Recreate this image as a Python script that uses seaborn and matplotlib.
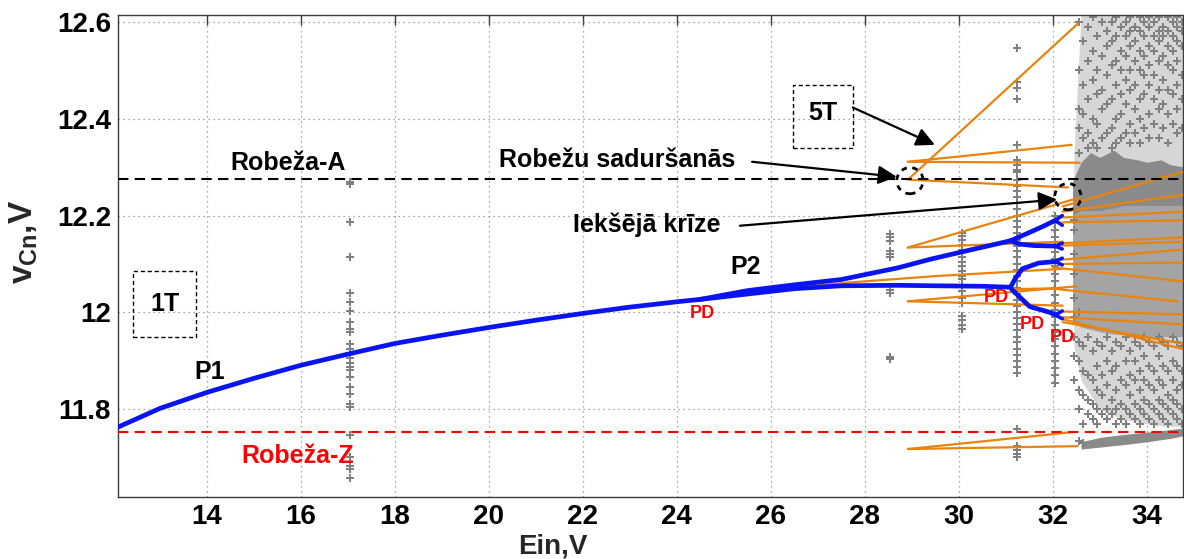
import numpy as np
import pandas as pd
import matplotlib
matplotlib.use("Agg")
import matplotlib.pyplot as plt
from matplotlib.patches import Ellipse, Rectangle
import seaborn as sns

sns.set_style("white")
plt.rcParams['font.family'] = ['Liberation Sans', 'DejaVu Sans']
plt.rcParams['mathtext.fontset'] = 'custom'
plt.rcParams['mathtext.rm'] = 'Liberation Sans:bold'
plt.rcParams['mathtext.it'] = 'Liberation Sans:bold'
plt.rcParams['mathtext.bf'] = 'Liberation Sans:bold'
plt.rcParams['mathtext.default'] = 'rm'

# ---------------- data ----------------
xticks = [14, 16, 18, 20, 22, 24, 26, 28, 30, 32, 34]
yticks = [11.8, 12.0, 12.2, 12.4, 12.6]
ytick_labels = ['11.8', '12', '12.2', '12.4', '12.6']

robeza_a = 12.276
robeza_z = 11.753

# stable branches (blue)
p1_x = [12.1, 13, 14, 15, 16, 17, 18, 19, 20, 21, 22, 23, 24, 24.5]
p1_y = [11.763, 11.802, 11.835, 11.864, 11.891, 11.914, 11.936, 11.953, 11.969, 11.984, 11.998, 12.011, 12.022, 12.027]
p2u_x = [24.5, 25.5, 26.5, 27.5, 28.7, 29.4, 30.2, 31.1]
p2u_y = [12.027, 12.045, 12.057, 12.068, 12.092, 12.11, 12.128, 12.148]
p2l_x = [24.5, 25.5, 26.5, 27.5, 28.7, 29.5, 30.5, 31.1]
p2l_y = [12.027, 12.038, 12.049, 12.055, 12.056, 12.055, 12.054, 12.052]
p4a_x = [31.1, 31.5, 31.8, 32.05]
p4a_y = [12.148, 12.165, 12.178, 12.19]
p4b_x = [31.1, 31.3, 31.6, 32.05]
p4b_y = [12.148, 12.141, 12.138, 12.137]
p4c_x = [31.1, 31.2, 31.35, 31.7, 32.05]
p4c_y = [12.052, 12.07, 12.09, 12.102, 12.105]
p4d_x = [31.13, 31.51, 31.94, 32.05]
p4d_y = [12.047, 12.012, 12.0, 11.995]
fork_x0 = 32.05
fork_x1 = 32.2
fork_y0 = [12.19, 12.137, 12.105, 11.995]
fork_spread = [0.01, 0.006, 0.007, 0.008]

# unstable / 5T orbits (orange) : x0, y0, x1, y1
orange_x0 = [28.915, 28.915, 28.915, 28.95, 28.915, 28.915, 28.915, 28.915, 28.915, 28.915,
             31.08,
             32.21, 32.21, 32.21, 32.21, 32.21, 32.21, 32.21, 32.21, 32.0, 32.0, 32.21, 32.21, 32.21, 32.21]
orange_y0 = [12.274, 12.311, 12.311, 12.274, 12.134, 12.134, 12.023, 12.023, 11.718, 11.718,
             12.048,
             12.219, 12.208, 12.196, 12.186, 12.138, 12.143, 12.109, 12.100, 12.093, 12.049, 12.002, 11.99, 11.986, 11.98]
orange_x1 = [32.53, 32.40, 32.57, 32.32, 32.57, 32.21, 32.51, 32.21, 32.43, 32.53,
             32.2,
             34.79, 34.79, 34.79, 34.79, 34.79, 34.79, 34.79, 34.79, 34.79, 34.66, 34.79, 34.79, 34.79, 34.79]
orange_y1 = [12.596, 12.346, 12.309, 12.258, 12.237, 12.146, 12.054, 12.014, 11.753, 11.724,
             12.05,
             12.291, 12.243, 12.208, 12.19, 12.146, 12.155, 12.130, 12.103, 12.064, 12.023, 11.996, 11.975, 11.924, 11.935]
unst_x = [24.5, 26.0, 27.7, 29.5, 32.2]
unst_y = [12.027, 12.047, 12.062, 12.075, 12.09]

# sampled (gray) points in periodic windows
col_x = [17.05, 28.53, 30.06, 31.23, 32.04]
col_y = [
    [12.27, 12.266, 12.186, 12.115, 12.041, 12.021, 12.002, 11.981, 11.965, 11.96, 11.934, 11.925,
     11.915, 11.905, 11.895, 11.888, 11.882, 11.866, 11.847, 11.831, 11.81, 11.804, 11.748, 11.701,
     11.682, 11.676, 11.658],
    [12.161, 12.155, 12.148, 12.126, 12.12, 12.115, 12.047, 12.041, 11.909, 11.903],
    [12.165, 12.158, 12.15, 12.14, 12.128, 12.115, 12.105, 12.095, 12.085, 12.075, 12.068, 12.055,
     12.045, 12.03, 12.02, 11.992, 11.985, 11.975, 11.965],
    [12.546, 12.476, 12.464, 12.44, 12.346, 12.315, 12.305, 12.295, 12.289, 12.274, 12.262, 12.25,
     12.238, 12.226, 12.214, 12.2, 12.188, 12.176, 12.164, 12.15, 12.138, 12.126, 12.114, 12.1,
     12.088, 12.076, 12.064, 12.05, 12.038, 12.026, 12.014, 12.0, 11.988, 11.976, 11.964, 11.95,
     11.938, 11.925, 11.912, 11.9, 11.888, 11.876, 11.759, 11.724, 11.715, 11.708, 11.701],
    [12.2, 12.185, 12.17, 12.155, 12.14, 12.125, 12.11, 12.095, 12.08, 12.065, 12.05, 12.035,
     12.02, 12.005, 11.99, 11.975, 11.96, 11.945, 11.93, 11.915, 11.9, 11.885, 11.87, 11.855],
]

# chaotic cloud: density bands (edges) and scattered points
cloud_x = [32.45, 32.6, 33.0, 33.5, 34.0, 34.4, 34.8]
cloud_lo = [11.93, 11.86, 11.8, 11.78, 11.77, 11.765, 11.765]
cloud_hi = [12.33, 12.614, 12.614, 12.614, 12.614, 12.614, 12.614]
band_x = [32.42, 32.6, 32.8, 33.0, 33.3, 33.5, 33.8, 34.0, 34.3, 34.5, 34.8]
band_top_lo = [12.2, 12.21, 12.21, 12.21, 12.215, 12.22, 12.22, 12.22, 12.22, 12.22, 12.22]
band_top_hi = [12.27, 12.31, 12.33, 12.32, 12.335, 12.32, 12.315, 12.31, 12.315, 12.305, 12.3]
band_mid_lo = [11.98, 11.97, 11.965, 11.96, 11.955, 11.955, 11.95, 11.95, 11.95, 11.95, 11.95]
band_mid_hi = [12.2, 12.21, 12.21, 12.21, 12.215, 12.22, 12.22, 12.22, 12.22, 12.22, 12.22]
band_bot_x = [32.6, 33.0, 33.5, 34.0, 34.5, 34.8]
band_bot_lo = [11.718, 11.722, 11.727, 11.733, 11.74, 11.746]
band_bot_hi = [11.733, 11.742, 11.748, 11.753, 11.758, 11.762]

chaos_x = [32.45, 32.55, 32.65, 32.75, 32.85, 32.95, 33.05, 33.15, 33.25, 33.35, 33.45, 33.55,
           33.65, 33.75, 33.85, 33.95, 34.05, 34.15, 34.25, 34.35, 34.45, 34.55, 34.65, 34.75]
chaos_y = [
    [12.19, 12.17, 12.12, 12.08, 12.03, 11.99, 11.95, 11.91, 11.86],
    [12.6, 12.5, 12.42, 12.38, 12.33, 12.0, 11.94, 11.9, 11.84, 11.8, 11.735],
    [12.56, 12.47, 12.41, 12.36, 11.93, 11.88, 11.83, 11.77, 11.73],
    [12.59, 12.52, 12.44, 12.37, 12.34, 11.95, 11.87, 11.82, 11.79],
    [12.61, 12.54, 12.48, 12.4, 12.35, 11.92, 11.86, 11.81, 11.78],
    [12.57, 12.5, 12.45, 12.39, 12.34, 11.94, 11.89, 11.84, 11.8, 11.77],
    [12.6, 12.53, 12.46, 12.42, 12.36, 11.93, 11.87, 11.83, 11.79],
    [12.58, 12.55, 12.49, 12.43, 12.37, 11.95, 11.9, 11.85, 11.8, 11.78],
    [12.6, 12.56, 12.51, 12.44, 12.38, 12.34, 11.92, 11.88, 11.82, 11.79],
    [12.61, 12.57, 12.52, 12.47, 12.4, 12.35, 11.94, 11.89, 11.84, 11.8, 11.77],
    [12.59, 12.54, 12.5, 12.45, 12.41, 12.36, 11.93, 11.86, 11.81, 11.78],
    [12.6, 12.57, 12.53, 12.48, 12.43, 12.37, 11.95, 11.9, 11.85, 11.8, 11.77],
    [12.61, 12.58, 12.55, 12.5, 12.46, 12.39, 12.35, 11.92, 11.87, 11.83, 11.79],
    [12.59, 12.56, 12.52, 12.47, 12.42, 12.37, 11.94, 11.9, 11.86, 11.81, 11.78],
    [12.61, 12.58, 12.54, 12.5, 12.44, 12.4, 12.35, 11.93, 11.88, 11.84, 11.8, 11.77],
    [12.6, 12.57, 12.53, 12.49, 12.45, 12.38, 11.95, 11.91, 11.86, 11.82, 11.79],
    [12.61, 12.59, 12.55, 12.51, 12.47, 12.41, 12.36, 11.94, 11.89, 11.85, 11.81, 11.78],
    [12.6, 12.57, 12.54, 12.49, 12.44, 12.39, 11.93, 11.88, 11.84, 11.8, 11.77],
    [12.61, 12.58, 12.56, 12.52, 12.46, 12.42, 12.36, 11.95, 11.91, 11.86, 11.82, 11.79],
    [12.59, 12.57, 12.53, 12.48, 12.43, 12.38, 11.94, 11.89, 11.85, 11.81, 11.78],
    [12.61, 12.58, 12.55, 12.51, 12.46, 12.41, 12.35, 11.93, 11.88, 11.83, 11.8, 11.77],
    [12.6, 12.57, 12.54, 12.5, 12.45, 12.39, 11.95, 11.9, 11.86, 11.82, 11.79],
    [12.61, 12.59, 12.56, 12.52, 12.47, 12.42, 12.37, 11.94, 11.89, 11.84, 11.81, 11.78],
    [12.6, 12.58, 12.55, 12.49, 12.44, 12.38, 11.93, 11.88, 11.85, 11.8, 11.77],
]

# ---------------- figure ----------------
W, H = 1184, 559
fig = plt.figure(figsize=(W / 100, H / 100), dpi=100)
ax = fig.add_axes([118 / W, 1 - 497 / H, (1183 - 118) / W, (497 - 15) / H])
ax.set_xlim(12.106, 34.77)
ax.set_ylim(11.619, 12.614)

GRAY = '#808080'
ORANGE = '#E8840E'
BLUE = '#0A14F0'

# chaotic density regions
ax.fill_between(cloud_x, cloud_lo, cloud_hi, color='#d6d6d6', lw=0, zorder=1.4)
ax.fill_between(band_x, band_mid_lo, band_mid_hi, color='#a4a4a4', lw=0, zorder=1.5)
ax.fill_between(band_x, band_top_lo, band_top_hi, color='#8a8a8a', lw=0, zorder=1.5)
ax.fill_between(band_bot_x, band_bot_lo, band_bot_hi, color='#8a8a8a', lw=0, zorder=1.5)

# gray sampled points
pts = []
for cx, ys in zip(col_x + chaos_x, col_y + chaos_y):
    for yv in ys:
        pts.append((cx, yv))
df_pts = pd.DataFrame(pts, columns=['Ein', 'v'])
sns.scatterplot(data=df_pts, x='Ein', y='v', ax=ax, color=GRAY, marker='P', s=34,
                linewidth=0, zorder=2, legend=False)

# boundaries
ax.axhline(robeza_a, color='black', ls=(0, (5, 3)), lw=1.5, zorder=3.5)
ax.axhline(robeza_z, color='#ff0000', ls=(0, (5, 3)), lw=1.5, zorder=3.5)

# orange segments
for x0, y0, x1, y1 in zip(orange_x0, orange_y0, orange_x1, orange_y1):
    sns.lineplot(x=[x0, x1], y=[y0, y1], ax=ax, color=ORANGE, lw=1.6, sort=False,
                 estimator=None, zorder=3)
sns.lineplot(x=unst_x, y=unst_y, ax=ax, color=ORANGE, lw=1.6, sort=False, estimator=None, zorder=3)

# blue branches
for bx, by in [(p1_x, p1_y), (p2u_x, p2u_y), (p2l_x, p2l_y), (p4a_x, p4a_y),
               (p4b_x, p4b_y), (p4c_x, p4c_y), (p4d_x, p4d_y)]:
    sns.lineplot(x=bx, y=by, ax=ax, color=BLUE, lw=3.4, sort=False, estimator=None,
                 zorder=4, solid_capstyle='round')
for fy, fs in zip(fork_y0, fork_spread):
    for sgn in (-1, 1):
        sns.lineplot(x=[fork_x0, fork_x1], y=[fy, fy + sgn * fs], ax=ax, color=BLUE, lw=2.6,
                     sort=False, estimator=None, zorder=4)

# axes styling
ax.set_xticks(xticks)
ax.set_yticks(yticks)
ax.set_yticklabels(ytick_labels)
ax.grid(True, color='#8c8c8c', ls=(0, (1, 3)), lw=0.9)
ax.set_axisbelow(True)
for s in ax.spines.values():
    s.set_color('#3c3c3c')
    s.set_linewidth(1.0)
ax.tick_params(direction='in', length=7, width=1, top=True, right=True, colors='#3c3c3c',
               labelcolor='black', labelsize=20)
ax.tick_params(axis='x', pad=5)
ax.tick_params(axis='y', pad=5)
for lab in ax.get_xticklabels() + ax.get_yticklabels():
    lab.set_fontweight('bold')
ax.set_xlabel('')
ax.set_ylabel('')

fig.text(553 / W, 1 - 554 / H, 'Ein,V', ha='center', va='baseline', fontsize=20, fontweight='bold')
fig.text(24 / W, 1 - 242 / H, 'v$_{Cn}$,V', ha='center', va='center', rotation=90,
         fontsize=24, fontweight='bold')

# annotations
bold = dict(fontweight='bold', fontsize=18, ha='center', va='center')
ax.text(15.72, 12.309, 'Robeža-A', color='black', zorder=6, **bold)
ax.text(15.94, 11.703, 'Robeža-Z', color='#ff0000', zorder=6, **bold)
ax.text(22.72, 12.315, 'Robežu saduršanās', color='black', zorder=6, **bold)
ax.text(23.36, 12.181, 'Iekšējā krīze', color='black', zorder=6, **bold)
ax.text(14.06, 11.878, 'P1', color='black', zorder=6, **bold)
ax.text(25.47, 12.093, 'P2', color='black', zorder=6, **bold)
ax.text(13.11, 12.017, '1T', color='black', zorder=6, **bold)
ax.text(27.11, 12.412, '5T', color='black', zorder=6, **bold)
ax.add_patch(Rectangle((12.43, 11.95), 1.34, 0.135, fill=False, ls=(0, (3, 2)), lw=1.0,
                       ec='black', zorder=6))
ax.add_patch(Rectangle((26.47, 12.34), 1.27, 0.13, fill=False, ls=(0, (3, 2)), lw=1.0,
                       ec='black', zorder=6))

pd_style = dict(color='#ff0000', fontweight='bold', fontsize=13, ha='center', va='center', zorder=6)
ax.text(24.55, 11.998, 'PD', **pd_style)
ax.text(30.8, 12.031, 'PD', **pd_style)
ax.text(31.57, 11.975, 'PD', **pd_style)
ax.text(32.2, 11.948, 'PD', **pd_style)

arrow = dict(arrowstyle='-|>', color='black', lw=1.6, mutation_scale=28, shrinkA=0, shrinkB=0)
ax.annotate('', xy=(29.489, 12.346), xytext=(27.745, 12.423), arrowprops=arrow, zorder=6)
ax.annotate('', xy=(28.68, 12.28), xytext=(25.6, 12.311), arrowprops=arrow, zorder=6)
ax.annotate('', xy=(32.09, 12.233), xytext=(25.34, 12.179), arrowprops=arrow, zorder=6)

ax.add_patch(Ellipse((28.96, 12.272), 0.56, 0.054, fill=False, ls=(0, (2, 2)), lw=2, ec='black', zorder=6))
ax.add_patch(Ellipse((32.32, 12.239), 0.56, 0.054, fill=False, ls=(0, (2, 2)), lw=2, ec='black', zorder=6))

fig.savefig('out.png', dpi=100)
